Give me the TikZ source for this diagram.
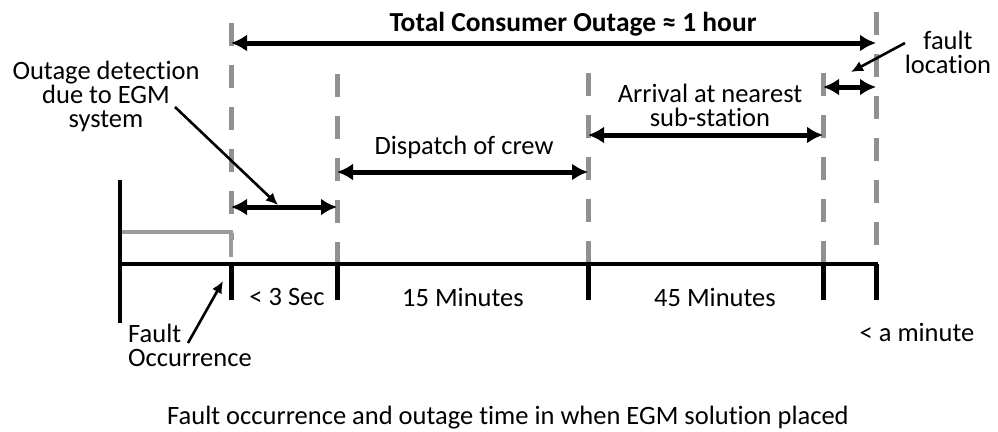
\documentclass[tikz,border=0pt]{standalone}
\usepackage{fontspec}
\setmainfont{Carlito}[Ligatures=NoCommon]
\usetikzlibrary{arrows.meta}
\definecolor{guidegray}{RGB}{145,145,145}
\definecolor{stepgray}{RGB}{155,155,155}
\begin{document}
\begin{tikzpicture}[x=1pt,y=-1pt,
  lbl/.style={font=\fontsize{26.5}{24}\selectfont, inner sep=0pt, align=center},
  boldlbl/.style={lbl, font=\fontsize{27.5}{24}\selectfont\bfseries},
  guide/.style={draw=guidegray, line width=5pt, dash pattern=on 23pt off 19pt},
  span/.style={draw=black, line width=5pt, {Latex[length=16pt,width=17pt]}-{Latex[length=16pt,width=17pt]}},
  pointer/.style={draw=black, line width=2.6pt, -{Latex[length=12pt,width=11pt]}},
  axisline/.style={draw=black, line width=4pt},
  tick/.style={draw=black, line width=5pt},
]
\path[use as bounding box] (0,0) rectangle (998,431);

% time marks on the axis
\coordinate (m0) at (231,264);
\coordinate (m1) at (337,264);
\coordinate (m2) at (588,264);
\coordinate (m3) at (823,264);
\coordinate (m4) at (876,264);

% dashed guides rising from the marks
\coordinate (g0top) at (231,23);
\coordinate (g0bot) at (231,240);
\coordinate (g1top) at (337,74);
\coordinate (g2top) at (588,73);
\coordinate (g3top) at (823,73);
\coordinate (g4top) at (876,12);
\coordinate (g4bot) at (876,245);
\draw[guide] (g0top) -- (g0bot);
\draw[guide] (g1top) -- (m1);
\draw[guide] (g2top) -- (m2);
\draw[guide] (g3top) -- (m3);
\draw[guide] (g4top) -- (g4bot);

% supply level before the fault
\coordinate (s0) at (120,232);
\coordinate (s1) at (231,232);
\coordinate (s2) at (231,257);
\draw[stepgray, line width=4pt] (s0) -- (s1) -- (s2);

% time axis
\coordinate (ax0) at (120,264);
\coordinate (ax1) at (878,264);
\coordinate (vb0) at (120,180);
\coordinate (vb1) at (120,323);
\draw[axisline] (ax0) -- (ax1);
\draw[axisline] (vb0) -- (vb1);
\foreach \m in {m0,m1,m2,m3,m4}
  \draw[tick] (\m) -- ++(0,36);

% duration spans
\coordinate (tA) at (231,43);  \coordinate (tB) at (876,43);
\coordinate (dA) at (231,207); \coordinate (dB) at (337,207);
\coordinate (cA) at (337,172); \coordinate (cB) at (588,172);
\coordinate (rA) at (588,135); \coordinate (rB) at (823,135);
\coordinate (fA) at (823,87);  \coordinate (fB) at (876,87);
\draw[span] (tA) -- (tB);
\draw[span] (dA) -- (dB);
\draw[span] (cA) -- (cB);
\draw[span] (rA) -- (rB);
\draw[span] (fA) -- (fB);

% labels
\node[boldlbl] (total) at (573,24) {Total Consumer Outage ≈ 1 hour};
\node[lbl] (detect) at (106,96) {Outage detection\\due to EGM\\system};
\node[lbl] (dispatch) at (464,147) {Dispatch of crew};
\node[lbl] (arrival) at (710,105) {Arrival at nearest\\sub-station};
\node[lbl] (floc) at (948,52) {fault\\location};
\node[lbl, align=left, anchor=west] (focc) at (128,345) {Fault\\Occurrence};
\node[lbl] (lt3) at (287,297) {< 3 Sec};
\node[lbl] (m15) at (463,297) {15 Minutes};
\node[lbl] (m45) at (715,297) {45 Minutes};
\node[lbl] (ltmin) at (917,332) {< a minute};
\node[lbl] (caption) at (508,418) {Fault occurrence and outage time in when EGM solution placed};

% pointers from labels
\coordinate (detTail) at (175,107);
\coordinate (detTip) at (278,205);
\draw[pointer] (detTail) -- (detTip);
\coordinate (flTail) at (905,43);
\coordinate (flTip) at (851,72);
\draw[pointer] (flTail) -- (flTip);
\coordinate (foTail) at (188,343);
\coordinate (foTip) at (223,281);
\draw[pointer] (foTail) -- (foTip);
\end{tikzpicture}
\end{document}
